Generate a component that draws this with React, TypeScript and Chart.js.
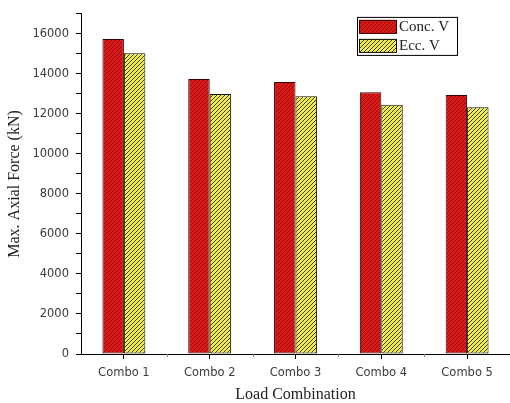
import React, { useEffect, useRef } from "react";
import { Chart, registerables } from "chart.js";

Chart.register(...registerables);

const categories = ["Combo 1", "Combo 2", "Combo 3", "Combo 4", "Combo 5"];
const concV = [15750, 13750, 13600, 13080, 12950];
const eccV = [15030, 13000, 12880, 12460, 12330];
const seriesLabels = ["Conc. V", "Ecc. V"];

function makePattern(bg: string, line: string, period: number): CanvasPattern | string {
  const c = document.createElement("canvas");
  c.width = period;
  c.height = period;
  const ctx = c.getContext("2d");
  if (!ctx) return bg;
  ctx.fillStyle = bg;
  ctx.fillRect(0, 0, period, period);
  ctx.fillStyle = line;
  for (let i = 0; i < period; i++) {
    ctx.fillRect(i, period - 1 - i, 1, 1);
  }
  const p = ctx.createPattern(c, "repeat");
  return p || bg;
}

const legendBoxPlugin = {
  id: "legendBox",
  afterDraw(chart: any) {
    const { ctx, chartArea } = chart;
    const x0 = chartArea.left + 276;
    const y0 = chartArea.top + 3;
    const w = 100;
    const h = 38;
    ctx.save();
    ctx.fillStyle = "#fff";
    ctx.fillRect(x0, y0, w, h);
    ctx.strokeStyle = "#000";
    ctx.lineWidth = 1;
    ctx.strokeRect(x0 + 0.5, y0 + 0.5, w, h);
    chart.data.datasets.forEach((ds: any, i: number) => {
      const ry = y0 + 3 + i * 19;
      ctx.fillStyle = ds.backgroundColor;
      ctx.fillRect(x0 + 2, ry, 37, 14);
      ctx.strokeStyle = ds.borderColor;
      ctx.strokeRect(x0 + 2.5, ry + 0.5, 37, 13);
      ctx.fillStyle = "#222";
      ctx.font = "15px 'Liberation Serif'";
      ctx.textBaseline = "middle";
      ctx.textAlign = "left";
      ctx.fillText(ds.label, x0 + 42, ry + 7);
    });
    ctx.restore();
  },
};

const minorTickPlugin = {
  id: "minorTicks",
  afterDraw(chart: any) {
    const { ctx } = chart;
    const xs = chart.scales.x;
    const yb = chart.chartArea.bottom;
    ctx.save();
    ctx.strokeStyle = "#888";
    ctx.lineWidth = 1;
    for (let i = 0; i < categories.length; i++) {
      const a = xs.getPixelForValue(i);
      const b = i + 1 < categories.length ? xs.getPixelForValue(i + 1) : a + (a - xs.getPixelForValue(i - 1));
      const m = Math.round((a + b) / 2) + 0.5;
      ctx.beginPath();
      ctx.moveTo(m, yb);
      ctx.lineTo(m, yb + 3);
      ctx.stroke();
    }
    ctx.restore();
  },
};

export default function App() {
  const ref = useRef<HTMLCanvasElement | null>(null);

  useEffect(() => {
    if (!ref.current) return;
    const redPat = makePattern("#dc1a1a", "#9a0a0a", 4);
    const yelPat = makePattern("#f2ee46", "#3a3a18", 4);
    const tickFont = { family: "'DejaVu Sans'", size: 11.5 };
    const chart = new Chart(ref.current, {
      type: "bar",
      data: {
        labels: categories,
        datasets: [
          {
            label: seriesLabels[0],
            data: concV,
            backgroundColor: redPat as any,
            borderColor: "#3a0000",
            borderWidth: 1,
            borderSkipped: false,
            categoryPercentage: 0.5,
            barPercentage: 1.0,
          },
          {
            label: seriesLabels[1],
            data: eccV,
            backgroundColor: yelPat as any,
            borderColor: "#111",
            borderWidth: 1,
            borderSkipped: false,
            categoryPercentage: 0.5,
            barPercentage: 1.0,
          },
        ],
      },
      options: {
        responsive: false,
        animation: false,
        layout: { padding: { top: 13, left: 0, right: 0, bottom: 0 } },
        plugins: {
          legend: { display: false },
          tooltip: { enabled: false },
        },
        scales: {
          x: {
            grid: {
              display: true,
              drawOnChartArea: false,
              drawTicks: true,
              tickLength: 5,
              offset: false,
              color: "#000",
            },
            border: { color: "#000", width: 1 },
            ticks: { font: tickFont, color: "#3a3a3a", padding: 7 },
            title: {
              display: true,
              text: "Load Combination",
              font: { family: "'Liberation Serif'", size: 16, lineHeight: 1 },
              color: "#222",
              padding: 0,
            },
            afterFit: (s: any) => {
              s.height = 49;
            },
          },
          y: {
            min: 0,
            max: 17000,
            grid: {
              display: true,
              drawOnChartArea: false,
              drawTicks: true,
              tickLength: 5,
              color: "#000",
            },
            border: { color: "#000", width: 1 },
            ticks: {
              stepSize: 1000,
              autoSkip: false,
              font: tickFont,
              color: "#3a3a3a",
              padding: 7,
              callback: (v: any) => (Number(v) % 2000 === 0 ? String(v) : ""),
            },
            title: {
              display: true,
              text: "Max. Axial Force (kN)",
              font: { family: "'Liberation Serif'", size: 16, lineHeight: 1.2 },
              color: "#222",
              padding: { top: 5, bottom: 0 },
            },
            afterFit: (s: any) => {
              s.width = 81;
            },
          },
        },
      },
      plugins: [legendBoxPlugin, minorTickPlugin],
    });
    return () => chart.destroy();
  }, []);

  return (
    <div style={{ position: "fixed", left: 0, top: 0, width: 510, height: 403, background: "#fff" }}>
      <canvas ref={ref} width={510} height={403} style={{ display: "block" }} />
    </div>
  );
}
